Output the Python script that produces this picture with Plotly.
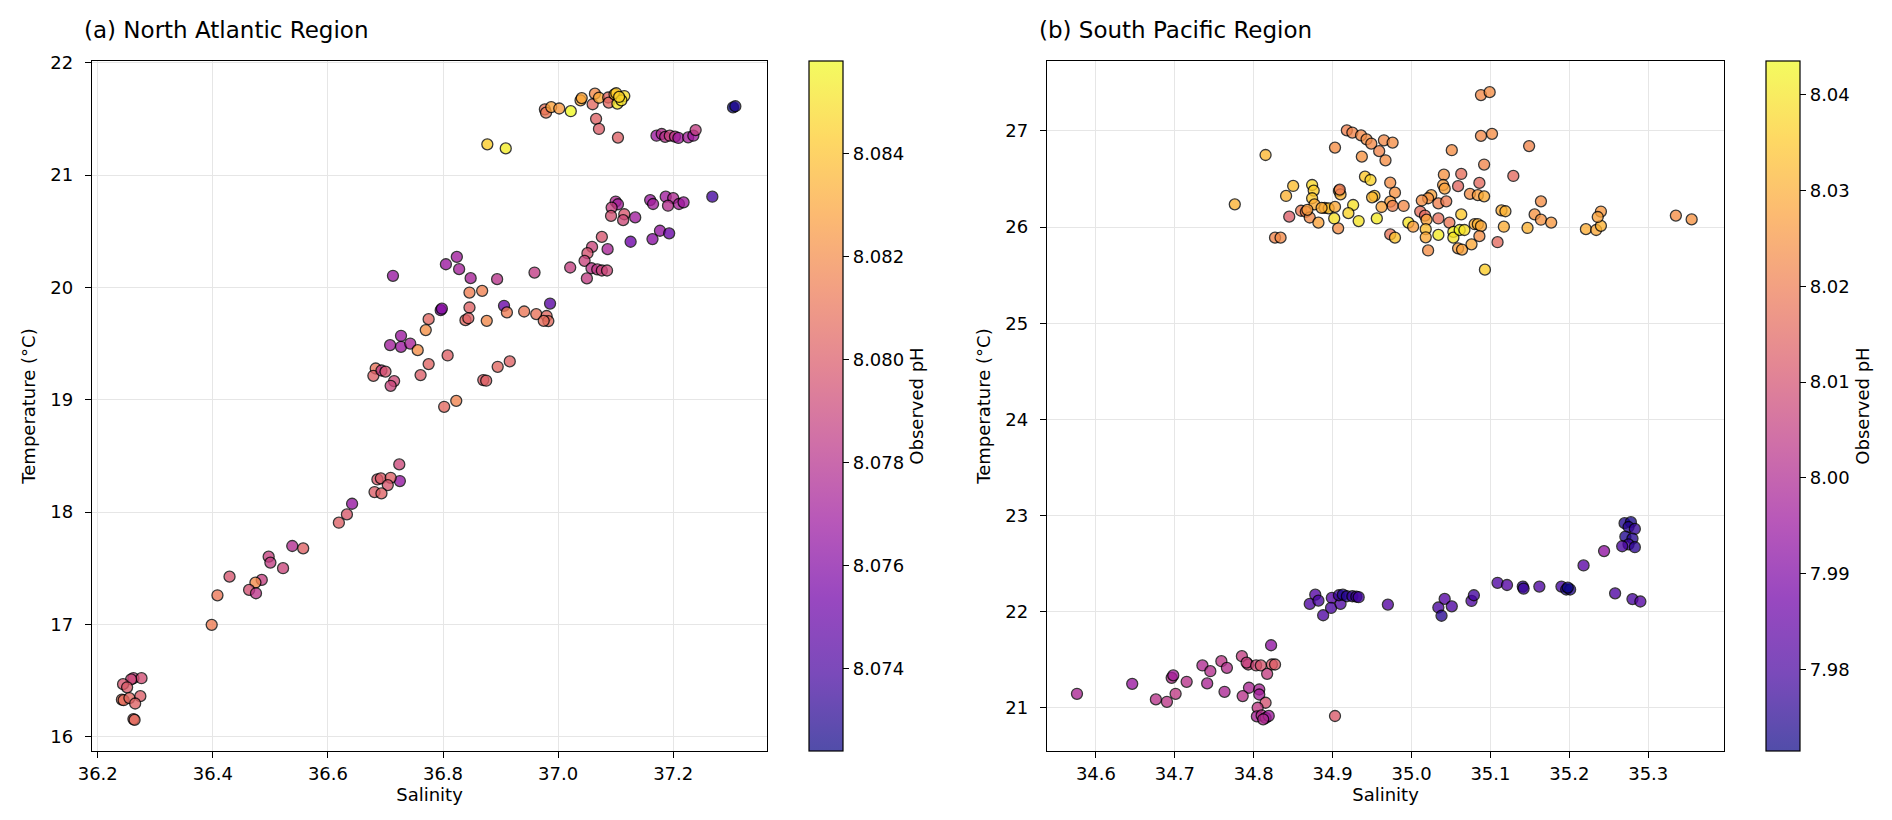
import plotly.graph_objects as go
import plotly.express as px
from plotly.colors import hex_to_rgb

# Datos: Atlantico Norte
sal_atlantico = [
    36.977, 36.979, 36.988, 37.002, 37.022, 37.039, 37.041, 37.060, 37.064, 37.071,
    37.066, 37.071, 37.087, 37.088, 37.098, 37.101, 37.103, 37.115, 37.110, 37.106,
    37.104, 36.877, 36.909, 37.304, 37.308, 37.171, 37.180, 37.186, 37.194, 37.203,
    37.209, 37.226, 37.235, 37.239, 37.100, 37.104, 37.093, 37.092, 37.115, 37.113,
    37.134, 37.160, 37.165, 37.187, 37.200, 37.191, 37.210, 37.218, 37.268, 37.177,
    37.193, 37.164, 37.126, 37.076, 37.086, 37.059, 37.051, 37.046, 37.021, 37.058,
    37.068, 37.076, 37.085, 37.050, 36.959, 36.824, 36.805, 36.828, 36.848, 36.894,
    36.713, 36.846, 36.868, 36.986, 36.906, 36.796, 36.798, 36.846, 36.911, 36.941,
    36.962, 36.980, 36.983, 36.975, 36.775, 36.839, 36.844, 36.876, 36.770, 36.727,
    36.708, 36.727, 36.743, 36.756, 36.808, 36.775, 36.761, 36.895, 36.916, 36.870,
    36.875, 36.683, 36.679, 36.693, 36.700, 36.715, 36.709, 36.823, 36.802, 36.724,
    36.725, 36.686, 36.692, 36.709, 36.704, 36.681, 36.693, 36.642, 36.633, 36.619,
    36.538, 36.557, 36.497, 36.500, 36.522, 36.429, 36.485, 36.474, 36.463, 36.475,
    36.408, 36.398, 36.262, 36.276, 36.258, 36.244, 36.251, 36.242, 36.245, 36.255,
    36.274, 36.265, 36.262, 36.264,
]
temp_atlantico = [
    21.585, 21.555, 21.605, 21.592, 21.568, 21.665, 21.685, 21.630, 21.724, 21.688,
    21.500, 21.410, 21.690, 21.645, 21.718, 21.728, 21.635, 21.703, 21.665, 21.695,
    21.333, 21.273, 21.237, 21.602, 21.612, 21.350, 21.365, 21.340, 21.350, 21.342,
    21.330, 21.335, 21.350, 21.400, 20.764, 20.740, 20.710, 20.636, 20.651, 20.598,
    20.623, 20.777, 20.742, 20.807, 20.795, 20.727, 20.742, 20.757, 20.807, 20.504,
    20.481, 20.430, 20.406, 20.449, 20.340, 20.360, 20.304, 20.236, 20.177, 20.170,
    20.160, 20.150, 20.150, 20.080, 20.132, 20.271, 20.206, 20.162, 20.082, 20.073,
    20.103, 19.954, 19.969, 19.856, 19.836, 19.797, 19.810, 19.821, 19.777, 19.785,
    19.762, 19.745, 19.700, 19.702, 19.717, 19.708, 19.725, 19.702, 19.620, 19.569,
    19.486, 19.471, 19.500, 19.441, 19.394, 19.317, 19.219, 19.293, 19.341, 19.175,
    19.169, 19.278, 19.213, 19.260, 19.250, 19.166, 19.124, 18.990, 18.937, 18.424,
    18.276, 18.290, 18.300, 18.305, 18.240, 18.178, 18.166, 18.074, 17.979, 17.905,
    17.698, 17.677, 17.603, 17.550, 17.500, 17.425, 17.396, 17.372, 17.307, 17.277,
    17.259, 16.996, 16.521, 16.521, 16.510, 16.468, 16.440, 16.330, 16.325, 16.344,
    16.361, 16.296, 16.157, 16.150,
]
ph_atlantico = [
    8.0810, 8.0812, 8.0829, 8.0826, 8.0858, 8.0833, 8.0830, 8.0806, 8.0820, 8.0832,
    8.0803, 8.0801, 8.0805, 8.0806, 8.0840, 8.0843, 8.0852, 8.0849, 8.0851, 8.0845,
    8.0802, 8.0844, 8.0854, 8.0724, 8.0728, 8.0768, 8.0778, 8.0780, 8.0788, 8.0782,
    8.0770, 8.0772, 8.0769, 8.0786, 8.0776, 8.0772, 8.0787, 8.0795, 8.0798, 8.0792,
    8.0770, 8.0768, 8.0771, 8.0770, 8.0777, 8.0779, 8.0773, 8.0769, 8.0738, 8.0766,
    8.0750, 8.0762, 8.0752, 8.0797, 8.0774, 8.0790, 8.0796, 8.0789, 8.0787, 8.0782,
    8.0784, 8.0789, 8.0791, 8.0786, 8.0785, 8.0770, 8.0768, 8.0772, 8.0773, 8.0781,
    8.0767, 8.0815, 8.0816, 8.0745, 8.0750, 8.0757, 8.0762, 8.0803, 8.0814, 8.0812,
    8.0810, 8.0806, 8.0807, 8.0808, 8.0805, 8.0806, 8.0803, 8.0819, 8.0822, 8.0768,
    8.0771, 8.0768, 8.0773, 8.0821, 8.0802, 8.0804, 8.0801, 8.0805, 8.0803, 8.0800,
    8.0803, 8.0810, 8.0802, 8.0784, 8.0797, 8.0792, 8.0790, 8.0817, 8.0806, 8.0791,
    8.0765, 8.0799, 8.0800, 8.0802, 8.0798, 8.0801, 8.0803, 8.0766, 8.0799, 8.0802,
    8.0778, 8.0803, 8.0788, 8.0786, 8.0790, 8.0797, 8.0787, 8.0820, 8.0795, 8.0782,
    8.0812, 8.0814, 8.0785, 8.0794, 8.0792, 8.0797, 8.0800, 8.0810, 8.0808, 8.0806,
    8.0801, 8.0803, 8.0805, 8.0807,
]

# Datos: Pacifico Sur
sal_pacifico = [
    34.776, 34.815, 34.827, 34.834, 34.841, 34.850, 34.845, 34.860, 34.866, 34.871,
    34.874, 34.876, 34.874, 34.877, 34.882, 34.890, 34.895, 34.903, 34.908, 34.910,
    34.903, 34.907, 34.902, 34.918, 34.925, 34.936, 34.943, 34.949, 34.959, 34.967,
    34.965, 34.976, 34.937, 34.941, 34.948, 34.926, 34.933, 34.953, 34.950, 34.956,
    34.973, 34.979, 34.973, 34.976, 34.990, 34.962, 34.973, 34.979, 34.920, 34.909,
    34.886, 34.868,
    35.088, 35.099, 35.088, 35.102, 35.149, 35.051, 35.092, 35.129, 35.041, 35.063,
    35.059, 35.086, 35.040, 35.042, 35.074, 35.084, 35.092, 35.025, 35.021, 35.034,
    35.044, 35.013, 35.011, 35.017, 35.019, 35.034, 35.048, 35.063, 34.996, 35.002,
    35.018, 35.018, 35.021, 35.034, 35.053, 35.053, 35.061, 35.067, 35.059, 35.064,
    35.076, 35.080, 35.084, 35.088, 35.086, 35.093, 35.109, 35.114, 35.119, 35.117,
    35.147, 35.156, 35.164, 35.164, 35.177, 35.221, 35.234, 35.240, 35.240, 35.236,
    35.335, 35.355,
    34.576, 34.646, 34.676, 34.690, 34.696, 34.698, 34.701, 34.715, 34.735, 34.745,
    34.741, 34.759, 34.766, 34.763, 34.785, 34.793, 34.791, 34.803, 34.809, 34.823,
    34.827, 34.822, 34.817, 34.794, 34.786, 34.807, 34.807, 34.815, 34.805, 34.804,
    34.810, 34.815, 34.819, 34.812, 34.903, 34.871, 34.878, 34.882, 34.888, 34.899,
    34.898, 34.910, 34.908, 34.913, 34.918, 34.925, 34.930, 34.933, 34.970, 35.034,
    35.042, 35.038, 35.051, 35.076, 35.079, 35.109, 35.121, 35.141, 35.142, 35.162,
    35.190, 35.196, 35.201, 35.198, 35.218, 35.244, 35.270, 35.278, 35.275, 35.283,
    35.271, 35.280, 35.275, 35.267, 35.283, 35.258, 35.280, 35.290,
]
temp_pacifico = [
    26.237, 26.750, 25.890, 25.890, 26.324, 26.428, 26.109, 26.170, 26.160, 26.100,
    26.438, 26.380, 26.300, 26.237, 26.046, 26.200, 26.195, 26.827, 26.376, 26.340,
    26.210, 25.987, 26.090, 27.007, 26.983, 26.955, 26.913, 26.868, 26.790, 26.695,
    26.903, 26.879, 26.733, 26.525, 26.490, 26.230, 26.063, 26.324, 26.310, 26.090,
    26.462, 26.358, 26.265, 26.220, 26.220, 26.209, 25.925, 25.890, 26.145, 26.390,
    26.200, 26.180,
    27.374, 27.404, 26.949, 26.970, 26.843, 26.800, 26.651, 26.532, 26.545, 26.553,
    26.426, 26.460, 26.438, 26.400, 26.345, 26.332, 26.320, 26.332, 26.300, 26.247,
    26.268, 26.277, 26.162, 26.120, 26.077, 26.090, 26.047, 26.132, 26.047, 26.004,
    25.979, 25.894, 25.757, 25.919, 25.950, 25.890, 25.970, 25.970, 25.779, 25.766,
    25.821, 26.030, 26.030, 26.010, 25.906, 25.557, 25.843, 26.174, 26.165, 26.004,
    25.991, 26.132, 26.268, 26.077, 26.047, 25.979, 25.970, 26.013, 26.162, 26.105,
    26.120, 26.080,
    21.145, 21.249, 21.087, 21.062, 21.311, 21.336, 21.145, 21.270, 21.440, 21.380,
    21.253, 21.484, 21.415, 21.166, 21.536, 21.450, 21.470, 21.440, 21.440, 21.450,
    21.450, 21.650, 21.353, 21.208, 21.121, 21.190, 21.138, 21.052, 21.000, 20.910,
    20.920, 20.895, 20.915, 20.880, 20.914, 22.080, 22.176, 22.114, 21.962, 22.142,
    22.038, 22.080, 22.170, 22.176, 22.160, 22.160, 22.155, 22.150, 22.073, 22.043,
    22.132, 21.957, 22.055, 22.111, 22.170, 22.300, 22.277, 22.260, 22.240, 22.260,
    22.260, 22.230, 22.230, 22.250, 22.480, 22.630, 22.920, 22.930, 22.880, 22.860,
    22.780, 22.760, 22.700, 22.680, 22.670, 22.190, 22.130, 22.105,
]
ph_pacifico = [
    8.031, 8.032, 8.022, 8.023, 8.031, 8.033, 8.013, 8.020, 8.021, 8.023,
    8.038, 8.036, 8.035, 8.030, 8.028, 8.029, 8.034, 8.024, 8.035, 8.031,
    8.029, 8.024, 8.039, 8.021, 8.022, 8.023, 8.024, 8.023, 8.022, 8.024,
    8.023, 8.024, 8.025, 8.035, 8.037, 8.039, 8.040, 8.034, 8.032, 8.041,
    8.024, 8.025, 8.027, 8.021, 8.023, 8.028, 8.018, 8.034, 8.037, 8.019,
    8.030, 8.027,
    8.023, 8.024, 8.023, 8.024, 8.022, 8.024, 8.022, 8.016, 8.025, 8.017,
    8.015, 8.016, 8.027, 8.028, 8.024, 8.027, 8.030, 8.028, 8.025, 8.021,
    8.020, 8.024, 8.017, 8.016, 8.028, 8.017, 8.019, 8.035, 8.040, 8.027,
    8.033, 8.029, 8.024, 8.041, 8.042, 8.040, 8.0435, 8.039, 8.027, 8.028,
    8.029, 8.030, 8.031, 8.029, 8.024, 8.036, 8.016, 8.030, 8.031, 8.030,
    8.031, 8.025, 8.024, 8.025, 8.026, 8.030, 8.029, 8.031, 8.026, 8.028,
    8.024, 8.025,
    7.999, 7.995, 8.002, 8.003, 8.001, 7.997, 8.004, 8.002, 8.000, 8.001,
    7.999, 8.003, 8.001, 7.999, 8.005, 8.007, 8.006, 8.008, 8.011, 8.012,
    8.013, 7.993, 8.005, 7.999, 8.002, 7.998, 7.997, 8.010, 8.004, 7.998,
    8.001, 7.999, 7.996, 8.000, 8.012, 7.981, 7.982, 7.980, 7.981, 7.982,
    7.980, 7.981, 7.978, 7.974, 7.975, 7.977, 7.978, 7.979, 7.982, 7.980,
    7.982, 7.975, 7.981, 7.981, 7.979, 7.981, 7.982, 7.976, 7.978, 7.981,
    7.979, 7.973, 7.974, 7.9715, 7.983, 7.993, 7.974, 7.973, 7.975, 7.977,
    7.974, 7.975, 7.978, 7.980, 7.976, 7.981, 7.980, 7.982,
]

FUENTE = "DejaVu Sans"
ANCHO, ALTO = 1892, 820

# Plasma con transparencia sobre blanco (para que la barra se vea como en la figura)
alfa = 0.72
plasma = px.colors.sequential.Plasma
plasma_claro = []
for i, c in enumerate(plasma):
    r, g, b = hex_to_rgb(c)
    r = round(r * alfa + 255 * (1 - alfa))
    g = round(g * alfa + 255 * (1 - alfa))
    b = round(b * alfa + 255 * (1 - alfa))
    plasma_claro.append([i / (len(plasma) - 1), f"rgb({r},{g},{b})"])

# Posiciones en pixeles -> fracciones del papel
y0 = 1 - 743 / ALTO
y1 = 1 - 53 / ALTO
dom_a = [84 / ANCHO, 759 / ANCHO]
dom_b = [1039 / ANCHO, 1716 / ANCHO]
cb_a = 801 / ANCHO
cb_b = 1758 / ANCHO


def puntos(x, y, c, xa, ya):
    return go.Scatter(
        x=x, y=y, mode="markers", xaxis=xa, yaxis=ya, showlegend=False,
        marker=dict(size=11, color=c, colorscale="Plasma",
                    cmin=min(c), cmax=max(c), opacity=0.78,
                    line=dict(color="black", width=1.3)),
    )


def barra(x, y, c, xa, ya, pos_x, fmt, paso, inicio):
    # traza invisible que solo dibuja la barra de color
    return go.Scatter(
        x=x, y=y, mode="markers", xaxis=xa, yaxis=ya, showlegend=False,
        hoverinfo="skip",
        marker=dict(size=1, color=c, colorscale=plasma_claro, opacity=0,
                    cmin=min(c), cmax=max(c), showscale=True,
                    colorbar=dict(
                        x=pos_x, xanchor="left", y=y0, yanchor="bottom",
                        len=y1 - y0, lenmode="fraction", thickness=34,
                        xpad=0, ypad=0, outlinecolor="black", outlinewidth=1.2,
                        ticks="outside", ticklen=6, tickcolor="black",
                        tickformat=fmt, dtick=paso, tick0=inicio,
                        tickfont=dict(family=FUENTE, size=18, color="black"),
                        title=dict(text="Observed pH", side="right",
                                   font=dict(family=FUENTE, size=18, color="black")),
                    )),
    )


fig = go.Figure()
fig.add_trace(puntos(sal_atlantico, temp_atlantico, ph_atlantico, "x", "y"))
fig.add_trace(barra(sal_atlantico, temp_atlantico, ph_atlantico, "x", "y",
                    cb_a, ".3f", 0.002, 8.074))
fig.add_trace(puntos(sal_pacifico, temp_pacifico, ph_pacifico, "x2", "y2"))
fig.add_trace(barra(sal_pacifico, temp_pacifico, ph_pacifico, "x2", "y2",
                    cb_b, ".2f", 0.01, 7.98))

ejes = dict(
    showline=True, mirror=True, linecolor="black", linewidth=1.3,
    ticks="outside", ticklen=6, tickcolor="black", tickwidth=1.2,
    showgrid=True, gridcolor="#e6e6e6", gridwidth=1.2, zeroline=False,
    automargin=False, tickfont=dict(family=FUENTE, size=18, color="black"),
    title_font=dict(family=FUENTE, size=18, color="black"),
)

fig.update_layout(
    width=ANCHO, height=ALTO,
    margin=dict(l=0, r=0, t=0, b=0),
    paper_bgcolor="white", plot_bgcolor="white",
    font=dict(family=FUENTE, size=18, color="black"),
    xaxis=dict(domain=dom_a, range=[36.19, 37.363], dtick=0.2, tick0=36.2,
               tickformat=".1f", title=dict(text="Salinity", standoff=4), **ejes),
    yaxis=dict(domain=[y0, y1], range=[15.873, 22.015], dtick=1,
               ticklabelstandoff=8,
               title=dict(text="Temperature (°C)", standoff=10), **ejes),
    xaxis2=dict(domain=dom_b, range=[34.538, 35.396], dtick=0.1, tick0=34.6,
                tickformat=".1f", anchor="y2",
                title=dict(text="Salinity", standoff=4), **ejes),
    yaxis2=dict(domain=[y0, y1], range=[20.55, 27.728], dtick=1, anchor="x2",
                ticklabelstandoff=8,
                title=dict(text="Temperature (°C)", standoff=10), **ejes),
    annotations=[
        dict(text="(a) North Atlantic Region", x=(84 - 10) / ANCHO, y=1 - 22 / ALTO,
             xref="paper", yref="paper", xanchor="left", yanchor="middle",
             showarrow=False, font=dict(family=FUENTE, size=23, color="black")),
        dict(text="(b) South Pacific Region", x=(1039 - 10) / ANCHO, y=1 - 22 / ALTO,
             xref="paper", yref="paper", xanchor="left", yanchor="middle",
             showarrow=False, font=dict(family=FUENTE, size=23, color="black")),
    ],
)

fig.write_html("out.html")
